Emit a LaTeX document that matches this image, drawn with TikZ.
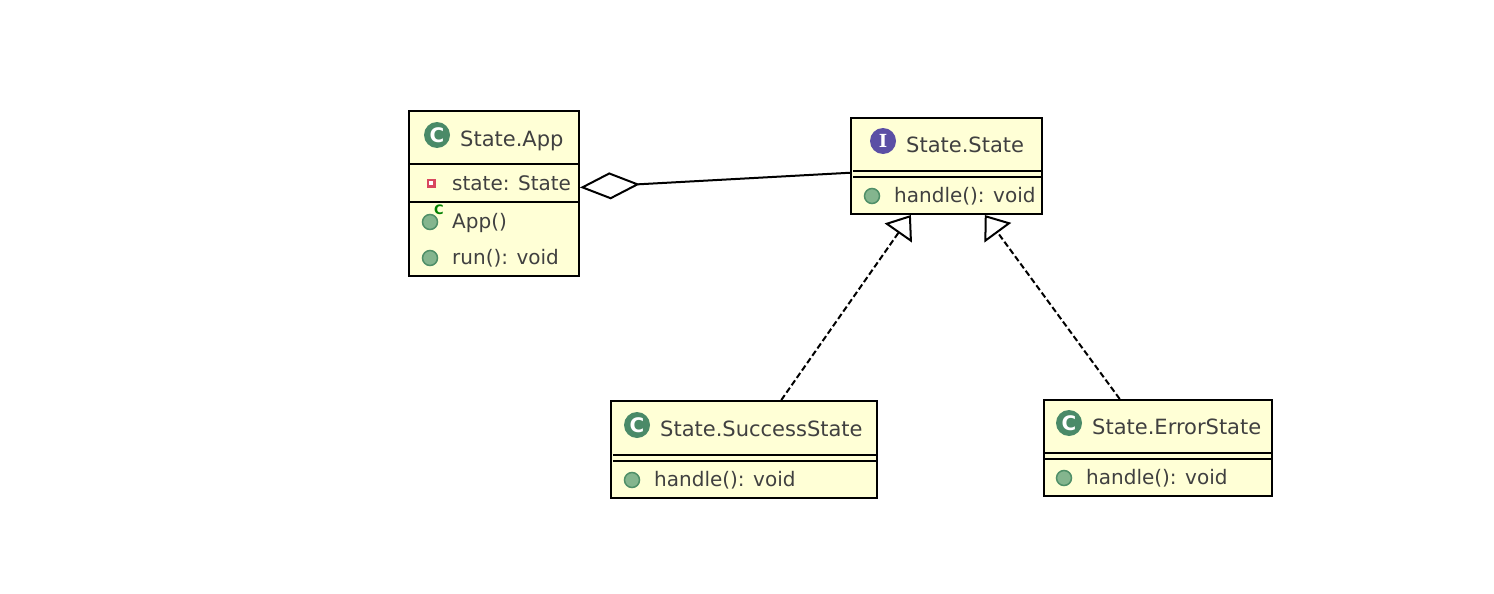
\documentclass[tikz,border=0pt]{standalone}
\usepackage{fontspec}
\setmainfont{DejaVu Sans}
\newfontfamily\badgeserif{DejaVu Serif}
\usetikzlibrary{arrows.meta}

\definecolor{boxyellow}{HTML}{FFFFD6}
\definecolor{labelgray}{HTML}{404040}
\definecolor{icongreen}{HTML}{84B58E}
\definecolor{icongreendark}{HTML}{4F8F68}
\definecolor{iconclass}{HTML}{4A8A68}
\definecolor{iconpurple}{HTML}{5B4FA5}
\definecolor{iconred}{HTML}{D9475F}

\begin{document}
\begin{tikzpicture}[
    x=1pt, y=-1pt,
    classbox/.style = {
        rectangle,
        draw=black,
        line width=2pt,
        fill=boxyellow,
        inner sep=0pt
    },
    title/.style = {anchor=base west, inner sep=0pt, text=labelgray, font=\fontsize{21}{24}\selectfont},
    member/.style = {title, font=\fontsize{20}{24}\selectfont},
    divider/.style = {line width=2pt, black},
    badge/.style = {
        circle,
        minimum size=26pt,
        inner sep=0pt,
        text=white,
        font=\fontsize{20}{20}\selectfont\bfseries
    },
    classbadge/.style = {badge, fill=iconclass},
    ifacebadge/.style = {badge, fill=iconpurple},
    method/.style = {circle, minimum size=15pt, inner sep=0pt, fill=icongreen, draw=icongreendark, line width=1.5pt},
    realize/.style = {-{Triangle[open, fill=white, length=22pt, width=33pt, line width=2pt]}, dash pattern=on 6pt off 3pt, line width=2pt},
    aggregate/.style = {-{Diamond[open, fill=white, length=60pt, width=27pt, line width=2pt]}, line width=2pt}
]
\useasboundingbox (0,0) rectangle (1494,594);

%% Class boxes
\node[classbox, minimum width=170pt, minimum height=165pt] (app) at (494,193.5) {};
\node[classbox, minimum width=191pt, minimum height=96pt] (state) at (946.5,166) {};
\node[classbox, minimum width=266pt, minimum height=97pt] (success) at (744,449.5) {};
\node[classbox, minimum width=228pt, minimum height=96pt] (error) at (1158,448) {};

%% Dividers
\draw[divider] (410,164) -- (578,164);
\draw[divider] (410,202) -- (578,202);
\draw[divider] (853,171) -- (1041,171);
\draw[divider] (853,177) -- (1041,177);
\draw[divider] (613,455) -- (876,455);
\draw[divider] (613,461) -- (876,461);
\draw[divider] (1045,453) -- (1271,453);
\draw[divider] (1045,459) -- (1271,459);

%% App
\node[classbadge] (appbadge) at (437,135) {C};
\node[title] (apptitle) at (460,146) {State.App};
\node[rectangle, minimum size=9pt, inner sep=0pt, fill=iconred] (statefield) at (431,183) {};
\node[rectangle, minimum size=3.5pt, inner sep=0pt, fill=white] (statedot) at (431,183) {};
\node[member] (statelabel) at (452,190) {state: State};
\node[method] (ctor) at (430,222) {};
\node[inner sep=0pt, text=green!50!black, font=\fontsize{13}{13}\selectfont\bfseries] (ctorc) at (439,210) {C};
\node[member] (ctorlabel) at (452,228) {App()};
\node[method] (run) at (430,258) {};
\node[member] (runlabel) at (452,264) {run(): void};

%% State
\node[ifacebadge, font=\fontsize{18}{18}\selectfont\badgeserif\bfseries] (statebadge) at (883,141) {I};
\node[title] (statetitle) at (906,152) {State.State};
\node[method] (handle) at (872,196) {};
\node[member] (handlelabel) at (894,202) {handle(): void};

%% SuccessState
\node[classbadge] (successbadge) at (637,425) {C};
\node[title] (successtitle) at (660,436) {State.SuccessState};
\node[method] (successhandle) at (632,480) {};
\node[member] (successlabel) at (654,486) {handle(): void};

%% ErrorState
\node[classbadge] (errorbadge) at (1069,423) {C};
\node[title] (errortitle) at (1092,434) {State.ErrorState};
\node[method] (errorhandle) at (1064,478) {};
\node[member] (errorlabel) at (1086,484) {handle(): void};

%% Connectors
\draw[aggregate] (state.184) -- (app.4);
\draw[realize] (success.53) -- (state.234);
\draw[realize] (error.128) -- (state.308);

\end{tikzpicture}
\end{document}
